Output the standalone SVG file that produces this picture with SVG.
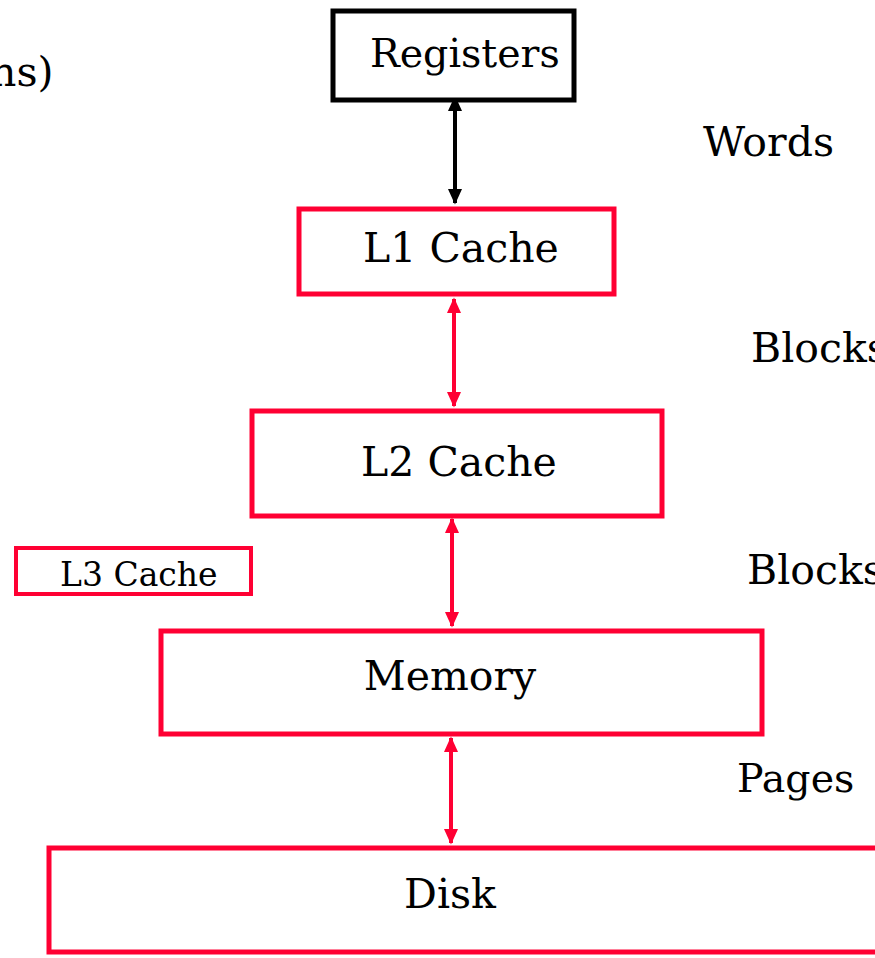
<svg xmlns="http://www.w3.org/2000/svg" width="875" height="958" viewBox="0 0 875 958">
  <style>
    .box { fill: #ffffff; stroke-width: 5; }
    .red { stroke: #ff0033; }
    .blk { stroke: #000000; }
    .lbl { font-family: "DejaVu Serif", "Liberation Serif", serif; font-size: 41px; fill: #000000; }
    .mid { text-anchor: middle; }
    .link { stroke-width: 4; fill: none; }
  </style>
  <defs>
    <marker id="headRed" viewBox="0 0 10 10" refX="9" refY="5" markerWidth="4" markerHeight="4" markerUnits="strokeWidth" orient="auto-start-reverse">
      <path d="M0,0.5 L10,5 L0,9.5 Z" fill="#ff0033"/>
    </marker>
    <marker id="headBlk" viewBox="0 0 10 10" refX="9" refY="5" markerWidth="4" markerHeight="4" markerUnits="strokeWidth" orient="auto-start-reverse">
      <path d="M0,0.5 L10,5 L0,9.5 Z" fill="#000000"/>
    </marker>
  </defs>

  <rect width="875" height="958" fill="#ffffff"/>

  <!-- side labels -->
  <text class="lbl" x="-10" y="86">ns)</text>
  <text class="lbl" x="703" y="156">Words</text>
  <text class="lbl" x="751" y="362">Blocks</text>
  <text class="lbl" x="747" y="584">Blocks</text>
  <text class="lbl" x="737" y="792" style="font-size:39.5px">Pages</text>

  <!-- connectors between levels -->
  <g id="connectors">
    <line class="link blk" x1="455" y1="97" x2="455" y2="203" marker-start="url(#headBlk)" marker-end="url(#headBlk)"/>
    <line class="link red" x1="454" y1="299" x2="454" y2="406" marker-start="url(#headRed)" marker-end="url(#headRed)"/>
    <line class="link red" x1="452" y1="519" x2="452" y2="626" marker-start="url(#headRed)" marker-end="url(#headRed)"/>
    <line class="link red" x1="451" y1="738" x2="451" y2="843" marker-start="url(#headRed)" marker-end="url(#headRed)"/>
  </g>

  <g id="registers">
    <rect class="box blk" x="333" y="11" width="241" height="89"/>
    <text class="lbl" x="370" y="67" style="font-size:39.5px">Registers</text>
  </g>

  <g id="l1-cache">
    <rect class="box red" x="299" y="209" width="315" height="85"/>
    <text class="lbl mid" x="461" y="262">L1 Cache</text>
  </g>

  <g id="l2-cache">
    <rect class="box red" x="252" y="411" width="410" height="105"/>
    <text class="lbl mid" x="459" y="476">L2 Cache</text>
  </g>

  <g id="l3-cache">
    <rect class="box red" x="16" y="548" width="235" height="46" style="stroke-width:4"/>
    <text class="lbl" x="60" y="586" style="font-size:33px">L3 Cache</text>
  </g>

  <g id="memory">
    <rect class="box red" x="161" y="631" width="601" height="103"/>
    <text class="lbl mid" x="450" y="690">Memory</text>
  </g>

  <g id="disk">
    <rect class="box red" x="49" y="848" width="830" height="104"/>
    <text class="lbl mid" x="450" y="908">Disk</text>
  </g>
</svg>
